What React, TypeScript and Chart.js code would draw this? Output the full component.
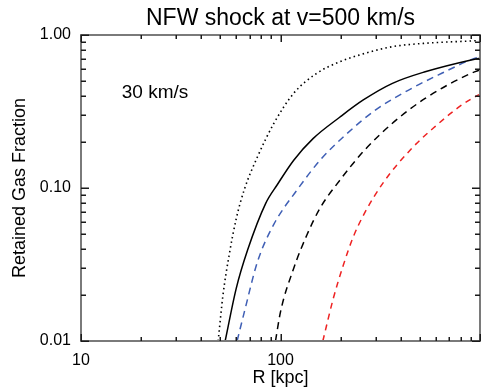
import React, { useEffect, useRef } from "react";
import { Chart, registerables } from "chart.js";

Chart.register(...registerables);

const FONT = "'Liberation Sans', Arial, Helvetica, sans-serif";

const TITLE = "NFW shock at v=500 km/s";
const X_TITLE = "R [kpc]";
const Y_TITLE = "Retained Gas Fraction";
const NOTE = "30 km/s";
const NOTE_POS = { x: 16, y: 0.42 };

const X_MIN = 10;
const X_MAX = 1000;
const Y_MIN = 0.01;
const Y_MAX = 1;
const X_LABELS = [10, 100];
const Y_LABELS = [0.01, 0.1, 1];
const X_MINOR_TICKS = [20, 30, 40, 50, 60, 70, 80, 90, 200, 300, 400, 500, 600, 700, 800, 900];
const X_MAJOR_TICKS = [10, 100, 1000];
const Y_MINOR_TICKS = [0.02, 0.03, 0.04, 0.05, 0.06, 0.07, 0.08, 0.09, 0.2, 0.3, 0.4, 0.5, 0.6, 0.7, 0.8, 0.9];
const Y_MAJOR_TICKS = [0.01, 0.1, 1];

// dotted curve
const rDotted = [48.7, 51.5, 55.6, 60, 65.9, 76.7, 92.7, 116.5, 152, 198, 258, 364, 531, 903, 1000];
const fDotted = [0.01, 0.02, 0.038, 0.063, 0.098, 0.16, 0.265, 0.416, 0.562, 0.668, 0.751, 0.839, 0.883, 0.914, 0.92];

// solid curve
const rSolid = [52.8, 60, 68.4, 84.3, 96.3, 116.5, 146, 198, 260, 364, 531, 903, 1000];
const fSolid = [0.01, 0.0221, 0.0393, 0.0794, 0.105, 0.152, 0.211, 0.29, 0.376, 0.483, 0.575, 0.687, 0.705];

// blue dashed curve
const rBlue = [60.6, 65.9, 76.7, 92.7, 121, 158, 214, 300, 456, 643, 903, 1000];
const fBlue = [0.01, 0.0155, 0.033, 0.058, 0.097, 0.152, 0.225, 0.324, 0.449, 0.562, 0.69, 0.72];

// black dashed curve
const rBlackDash = [94.4, 100, 116.5, 135.6, 158, 198, 262, 364, 531, 903, 1000];
const fBlackDash = [0.01, 0.0155, 0.0299, 0.0493, 0.074, 0.112, 0.175, 0.265, 0.385, 0.562, 0.59];

// red dashed curve
const rRed = [163, 184, 206, 231, 263, 330, 456, 595, 776, 903, 1000];
const fRed = [0.01, 0.019, 0.031, 0.0475, 0.068, 0.11, 0.182, 0.252, 0.335, 0.382, 0.41];

const pts = (xs: number[], ys: number[]) => xs.map((x, i) => ({ x, y: ys[i] }));

const boxPlugin = {
  id: "idlBox",
  afterDraw(chart: any) {
    const ctx: CanvasRenderingContext2D = chart.ctx;
    const area = chart.chartArea;
    const xs = chart.scales.x;
    const ys = chart.scales.y;
    const L = Math.round(area.left);
    const R = Math.round(area.right);
    const T = Math.round(area.top);
    const B = Math.round(area.bottom);
    ctx.save();
    ctx.fillStyle = "#7a7a7a";
    ctx.fillRect(L - 1, T - 1, R - L + 2, 2);
    ctx.fillRect(L - 1, B - 1, R - L + 2, 2);
    ctx.fillRect(L - 1, T - 1, 2, B - T + 2);
    ctx.fillRect(R - 1, T - 1, 2, B - T + 2);
    ctx.fillStyle = "#1a1a1a";
    const xTick = (v: number, len: number) => {
      const px = Math.round(xs.getPixelForValue(v));
      ctx.fillRect(px - 0.5, B - len, 1.5, len);
      ctx.fillRect(px - 0.5, T, 1.5, len);
    };
    const yTick = (v: number, len: number) => {
      const py = Math.round(ys.getPixelForValue(v));
      ctx.fillRect(L, py - 0.5, len, 1.5);
      ctx.fillRect(R - len, py - 0.5, len, 1.5);
    };
    X_MAJOR_TICKS.forEach((v) => xTick(v, 7));
    X_MINOR_TICKS.forEach((v) => xTick(v, 4));
    Y_MAJOR_TICKS.forEach((v) => yTick(v, 8));
    Y_MINOR_TICKS.forEach((v) => yTick(v, 5));
    ctx.fillStyle = "#000";
    ctx.font = `19px ${FONT}`;
    ctx.textAlign = "left";
    ctx.textBaseline = "middle";
    ctx.fillText(NOTE, xs.getPixelForValue(NOTE_POS.x), ys.getPixelForValue(NOTE_POS.y));
    ctx.restore();
  },
};

export default function App() {
  const ref = useRef<HTMLCanvasElement | null>(null);
  useEffect(() => {
    if (!ref.current) return;
    const lineBase = { pointRadius: 0, borderWidth: 1.5, fill: false, tension: 0.4, cubicInterpolationMode: "monotone" as const };
    const chart = new Chart(ref.current, {
      type: "line",
      data: {
        datasets: [
          { ...lineBase, data: pts(rDotted, fDotted), borderColor: "#000", borderDash: [1.5, 3.2], borderWidth: 1.6 },
          { ...lineBase, data: pts(rSolid, fSolid), borderColor: "#000" },
          { ...lineBase, data: pts(rBlue, fBlue), borderColor: "#3f5fb5", borderDash: [7, 5] },
          { ...lineBase, data: pts(rBlackDash, fBlackDash), borderColor: "#000", borderDash: [7, 5] },
          { ...lineBase, data: pts(rRed, fRed), borderColor: "#ee2222", borderDash: [6, 5] },
        ] as any,
      },
      options: {
        responsive: false,
        animation: false,
        devicePixelRatio: 1,
        layout: { padding: { left: 0, right: 4.5, top: 0, bottom: 0 } },
        plugins: {
          legend: { display: false },
          tooltip: { enabled: false },
          title: {
            display: true,
            text: TITLE,
            fullSize: false,
            color: "#000",
            font: { family: FONT, size: 23, weight: "normal" },
            padding: { top: 5, bottom: 2.4 },
          },
        },
        scales: {
          x: {
            type: "logarithmic",
            min: X_MIN,
            max: X_MAX,
            grid: { display: false, drawTicks: false },
            border: { display: false },
            ticks: {
              autoSkip: false,
              maxRotation: 0,
              padding: 10,
              color: "#000",
              font: { family: FONT, size: 16 },
              callback: (v: any) => (X_LABELS.includes(Number(v)) ? String(v) : ""),
            },
            title: {
              display: true,
              text: X_TITLE,
              color: "#000",
              font: { family: FONT, size: 18 },
              padding: { top: 0, bottom: 0 },
            },
            afterFit: (s: any) => {
              s.height = 48;
            },
          },
          y: {
            type: "logarithmic",
            min: Y_MIN,
            max: Y_MAX,
            grid: { display: false, drawTicks: false },
            border: { display: false },
            ticks: {
              autoSkip: false,
              padding: 10,
              color: "#000",
              font: { family: FONT, size: 16 },
              callback: (v: any) => {
                const n = Number(v);
                return Y_LABELS.some((t) => Math.abs(t - n) / t < 1e-6) ? n.toFixed(2) : "";
              },
            },
            title: {
              display: true,
              text: Y_TITLE,
              color: "#000",
              font: { family: FONT, size: 18 },
              padding: { top: 9, bottom: 0 },
            },
            afterFit: (s: any) => {
              s.width = 81;
            },
          },
        },
      },
      plugins: [boxPlugin],
    });
    return () => chart.destroy();
  }, []);
  return (
    <div style={{ position: "fixed", left: 0, top: 0, width: 481, height: 389, overflow: "hidden", background: "#fff" }}>
      <canvas ref={ref} width={490} height={389} style={{ display: "block", width: 490, height: 389 }} />
    </div>
  );
}
